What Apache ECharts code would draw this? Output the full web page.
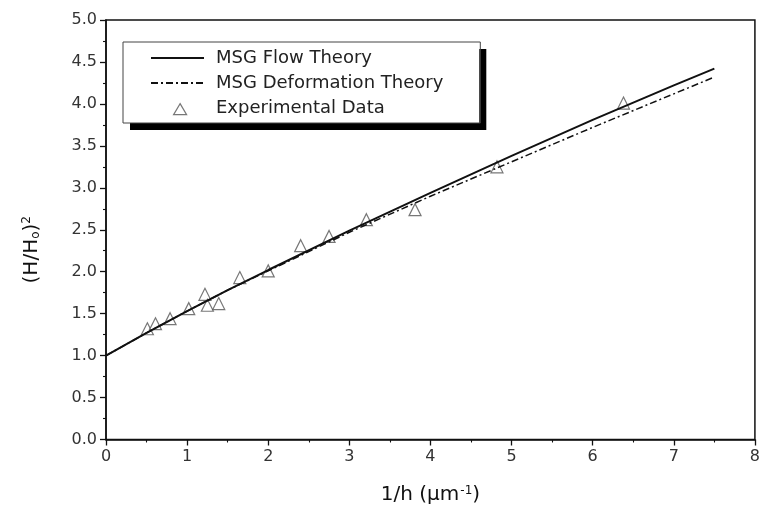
<!DOCTYPE html>
<html>
<head>
<meta charset="utf-8">
<script src="https://cdn.jsdelivr.net/npm/echarts@6/dist/echarts.min.js"></script>
<style>html,body{margin:0;padding:0;background:#fff}#c{width:763px;height:510px}</style>
</head>
<body>
<div id="c"></div>
<script>
// Experimental data (1/h, (H/H0)^2)
const expX = [0.51, 0.61, 0.79, 1.02, 1.22, 1.25, 1.39, 1.65, 2.0, 2.40, 2.75, 3.21, 3.81, 4.82, 6.38];
const expY = [1.32, 1.38, 1.44, 1.56, 1.73, 1.60, 1.62, 1.93, 2.01, 2.31, 2.42, 2.62, 2.74, 3.25, 4.01];
// MSG flow theory curve
const flowX = [0, 0.5, 1, 1.5, 2, 3, 4, 5, 6, 7, 7.5];
const flowY = [1.0, 1.27, 1.53, 1.78, 2.02, 2.49, 2.94, 3.38, 3.81, 4.22, 4.42];
// MSG deformation theory curve
const defX = [0, 0.5, 1, 1.5, 2, 3, 4, 5, 6, 7, 7.5];
const defY = [1.0, 1.27, 1.53, 1.78, 2.01, 2.47, 2.90, 3.31, 3.72, 4.12, 4.32];
const xTicks = [0, 1, 2, 3, 4, 5, 6, 7, 8];
const yTicks = [0.0, 0.5, 1.0, 1.5, 2.0, 2.5, 3.0, 3.5, 4.0, 4.5, 5.0];
const legendNames = ['MSG Flow Theory', 'MSG Deformation Theory', 'Experimental Data'];

const zip = (a, b) => a.map((v, i) => [v, b[i]]);
const font = 'DejaVu Sans, sans-serif';
const legendBase = {
  orient: 'vertical', left: 123, top: 42,
  padding: [7, 37, 6, 27],
  itemWidth: 53, itemHeight: 14, itemGap: 7,
  selectedMode: false
};
const chart = echarts.init(document.getElementById('c'));
chart.setOption({
  animation: false,
  backgroundColor: '#fff',
  grid: { left: 106, right: 6, top: 20, bottom: 69, show: true, borderColor: '#111', borderWidth: 1.5, backgroundColor: 'transparent' },
  legend: [
    // back layer: white box with hard black drop shadow
    Object.assign({}, legendBase, {
      z: 5,
      backgroundColor: '#fff', borderWidth: 0,
      shadowColor: '#000', shadowBlur: 0, shadowOffsetX: 7, shadowOffsetY: 7,
      textStyle: { fontFamily: font, fontSize: 18, lineHeight: 18, color: 'transparent', padding: [0, 0, 0, 7] },
      data: legendNames.map(n => ({ name: n, icon: 'rect', itemStyle: { color: 'transparent', borderWidth: 0, opacity: 0 }, lineStyle: { opacity: 0 } }))
    }),
    // front layer: border, line samples and texts
    Object.assign({}, legendBase, {
      z: 6,
      backgroundColor: 'transparent', borderColor: '#444', borderWidth: 1,
      textStyle: { fontFamily: font, fontSize: 18, lineHeight: 18, color: '#222', padding: [0, 0, 0, 7] },
      data: [
        { name: legendNames[0], itemStyle: { opacity: 0 } },
        { name: legendNames[1], itemStyle: { opacity: 0 } },
        { name: legendNames[2], icon: 'rect', itemStyle: { color: 'transparent', borderWidth: 0, opacity: 0 } }
      ]
    }),
    // triangle marker sample
    {
      orient: 'vertical', left: 173, top: 103, padding: 0, z: 7, selectedMode: false,
      itemWidth: 13, itemHeight: 11,
      formatter: () => '',
      textStyle: { fontSize: 1 },
      data: [{ name: legendNames[2], icon: 'triangle', itemStyle: { color: '#fff', borderColor: '#555', borderWidth: 1.2 } }]
    }
  ],
  xAxis: {
    type: 'value', min: 0, max: 8, interval: 1,
    name: '{a|1/h (μm}{s|-1}{a|)}', nameLocation: 'middle', nameGap: 45,
    nameTextStyle: { rich: { a: { fontFamily: font, fontSize: 20, color: '#111' }, s: { fontFamily: font, fontSize: 12, color: '#111', verticalAlign: 'top', padding: [0, 0, 9, 1] } } },
    axisLine: { lineStyle: { color: '#111', width: 1.5 } },
    axisTick: { show: true, length: 6, lineStyle: { color: '#111', width: 1.3 } },
    minorTick: { show: true, splitNumber: 2, length: 3, lineStyle: { color: '#111', width: 1.1 } },
    splitLine: { show: false },
    axisLabel: { fontFamily: font, fontSize: 16, color: '#333', margin: 9, formatter: v => xTicks.includes(v) ? String(v) : '' }
  },
  yAxis: {
    type: 'value', min: 0, max: 5, interval: 0.5,
    name: '{a|(H/H}{b|o}{a|)}{s|2}', nameLocation: 'middle', nameGap: 64, nameRotate: 90,
    nameTextStyle: { padding: [0, 40, 0, 0], rich: { a: { fontFamily: font, fontSize: 20, color: '#111' }, b: { fontFamily: font, fontSize: 12, color: '#111', verticalAlign: 'bottom', padding: [9, 0, 0, 0] }, s: { fontFamily: font, fontSize: 12, color: '#111', verticalAlign: 'top', padding: [0, 0, 9, 0] } } },
    axisLine: { show: true, lineStyle: { color: '#111', width: 1.5 } },
    axisTick: { show: true, length: 6, lineStyle: { color: '#111', width: 1.3 } },
    minorTick: { show: true, splitNumber: 2, length: 3, lineStyle: { color: '#111', width: 1.1 } },
    splitLine: { show: false },
    axisLabel: { fontFamily: font, fontSize: 16, color: '#333', margin: 9, formatter: v => yTicks.some(t => Math.abs(t - v) < 1e-9) ? v.toFixed(1) : '' }
  },
  series: [
    { name: 'MSG Flow Theory', type: 'line', data: zip(flowX, flowY), showSymbol: false, symbol: 'none', z: 4,
      lineStyle: { color: '#111', width: 2 }, itemStyle: { color: '#111' } },
    { name: 'MSG Deformation Theory', type: 'line', data: zip(defX, defY), showSymbol: false, symbol: 'none', z: 4,
      lineStyle: { color: '#111', width: 1.5, type: [7, 3, 2, 3] }, itemStyle: { color: '#111' } },
    { name: 'Experimental Data', type: 'scatter', data: zip(expX, expY), symbol: 'triangle', symbolSize: 12, z: 3,
      itemStyle: { color: '#fff', borderColor: '#555', borderWidth: 1.2 } }
  ]
});
</script>
</body>
</html>
